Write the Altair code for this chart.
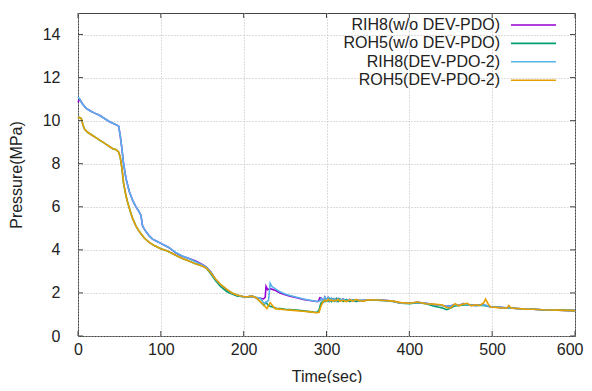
import altair as alt
import pandas as pd

names = ["RIH8(w/o DEV-PDO)", "ROH5(w/o DEV-PDO)", "RIH8(DEV-PDO-2)", "ROH5(DEV-PDO-2)"]
colors = ["#9400D3", "#009E73", "#56B4E9", "#E69F00"]

# common tail (after ~292 s)
tail_t = [294, 296, 298, 300, 302, 304, 306, 308, 310, 312, 314, 316, 320, 324, 328, 332, 336, 340,
          345, 350, 360, 370, 380, 390, 400, 410, 420, 430, 440, 445, 450, 455, 460, 465, 470, 480,
          490, 495, 500, 510, 520, 530, 540, 550, 560, 570, 580, 590, 600]
tail_p = [1.75, 1.6, 1.8, 1.65, 1.78, 1.62, 1.75, 1.65, 1.72, 1.62, 1.74, 1.64, 1.72, 1.62, 1.7, 1.62, 1.68, 1.64,
          1.66, 1.68, 1.68, 1.66, 1.62, 1.52, 1.52, 1.56, 1.52, 1.45, 1.42, 1.38, 1.4, 1.45, 1.42, 1.5, 1.45, 1.42,
          1.45, 1.38, 1.35, 1.33, 1.3, 1.28, 1.25, 1.24, 1.22, 1.21, 1.2, 1.19, 1.18]

# RIH8 (DEV-PDO-2) - blue
blue_t = [0, 2, 5, 10, 15, 20, 26, 32, 38, 44, 49, 51, 53, 55, 58, 62, 66, 70, 74, 76, 78, 82, 86, 90, 95,
          100, 105, 110, 118, 126, 134, 142, 150, 155, 160, 166, 172, 180, 186, 192, 200, 205, 210, 215, 220,
          225, 228, 230, 232, 234, 238, 244, 250, 256, 264, 272, 280, 288, 292] + tail_t
blue_p = [11.1, 11.0, 10.8, 10.57, 10.45, 10.35, 10.25, 10.1, 9.95, 9.85, 9.75, 9.3, 8.7, 8.0, 7.3, 6.7, 6.3, 6.0,
          5.75, 5.6, 5.1, 4.85, 4.65, 4.5, 4.4, 4.3, 4.2, 4.1, 3.88, 3.72, 3.6, 3.45, 3.3, 3.2, 3.0, 2.65, 2.4, 2.15,
          2.0, 1.9, 1.82, 1.82, 1.85, 1.8, 1.75, 1.5, 1.6, 1.65, 2.45, 2.3, 2.2, 2.05, 1.95, 1.88, 1.8, 1.72, 1.66,
          1.6, 1.62] + tail_p

# RIH8 (w/o DEV-PDO) - purple
purple_t = [0, 2, 5, 10, 15, 20, 26, 32, 38, 44, 49, 51, 53, 55, 58, 62, 66, 70, 74, 76, 78, 82, 86, 90, 95,
            100, 105, 110, 118, 126, 134, 142, 150, 155, 160, 166, 172, 180, 186, 192, 200, 205, 210, 215, 220,
            224, 226, 227, 229, 232, 238, 244, 250, 256, 264, 272, 280, 288, 290, 292] + tail_t
purple_p = [10.85, 11.0, 10.8, 10.57, 10.45, 10.35, 10.25, 10.1, 9.95, 9.85, 9.75, 9.3, 8.7, 8.0, 7.3, 6.7, 6.3,
            6.0, 5.75, 5.6, 5.1, 4.85, 4.65, 4.5, 4.4, 4.3, 4.2, 4.1, 3.86, 3.7, 3.6, 3.48, 3.32, 3.2, 3.0, 2.62,
            2.38, 2.12, 1.98, 1.88, 1.82, 1.82, 1.85, 1.78, 1.75, 1.72, 1.8, 2.3, 2.15, 2.2, 2.12, 2.0, 1.92, 1.85,
            1.78, 1.7, 1.65, 1.6, 1.6, 1.78] + tail_p

# ROH5 (DEV-PDO-2) - orange
orange_tail_t = [294, 296, 298, 300, 302, 304, 306, 308, 310, 312, 314, 316, 320, 324, 328, 332, 336, 340,
                 345, 350, 360, 370, 380, 390, 400, 410, 420, 430, 440, 445, 450, 455, 460, 465, 470, 475, 480,
                 485, 490, 492, 495, 498, 505, 510, 518, 520, 523, 530, 540, 550, 560, 570, 580, 590, 600]
orange_tail_p = [1.45, 1.6, 1.66, 1.62, 1.7, 1.64, 1.68, 1.62, 1.66, 1.64, 1.7, 1.62, 1.66, 1.6, 1.68, 1.62, 1.7,
                 1.64, 1.62, 1.68, 1.67, 1.65, 1.62, 1.55, 1.52, 1.58, 1.5, 1.48, 1.44, 1.32, 1.3, 1.5, 1.4, 1.48,
                 1.52, 1.4, 1.45, 1.42, 1.55, 1.72, 1.5, 1.35, 1.33, 1.3, 1.3, 1.42, 1.3, 1.28, 1.25, 1.24, 1.22,
                 1.21, 1.2, 1.19, 1.18]
orange_t = [0, 2, 4, 6, 8, 12, 18, 22, 26, 30, 34, 38, 42, 46, 49, 51, 53, 55, 58, 60, 63, 66, 70, 74, 80, 86,
            92, 100, 108, 118, 126, 134, 142, 150, 155, 160, 166, 172, 180, 186, 192, 200, 205, 210, 215, 220,
            225, 228, 230, 232, 235, 238, 244, 250, 256, 264, 272, 280, 288, 291, 293] + orange_tail_t
orange_p = [10.1, 10.15, 10.1, 9.8, 9.6, 9.45, 9.3, 9.2, 9.1, 9.0, 8.9, 8.8, 8.7, 8.65, 8.55, 8.3, 7.8, 7.1, 6.5,
            6.2, 5.8, 5.45, 5.1, 4.85, 4.55, 4.35, 4.2, 4.05, 3.95, 3.75, 3.6, 3.48, 3.35, 3.25, 3.15, 2.95, 2.65,
            2.4, 2.15, 2.0, 1.9, 1.82, 1.82, 1.85, 1.78, 1.6, 1.42, 1.27, 1.4, 1.55, 1.4, 1.27, 1.25, 1.22, 1.2,
            1.18, 1.15, 1.12, 1.08, 1.1, 1.35] + orange_tail_p

# ROH5 (w/o DEV-PDO) - green
green_tail_t = [296, 298, 300, 302, 304, 306, 308, 310, 312, 314, 316, 320, 324, 328, 332, 336, 340,
                345, 350, 360, 370, 380, 390, 400, 410, 420, 430, 440, 445, 450, 455, 460, 470, 480,
                490, 500, 510, 520, 530, 540, 550, 560, 570, 580, 590, 600]
green_tail_p = [1.65, 1.6, 1.72, 1.62, 1.74, 1.6, 1.72, 1.62, 1.74, 1.6, 1.72, 1.6, 1.7, 1.6, 1.68, 1.6, 1.66,
                1.64, 1.67, 1.66, 1.64, 1.6, 1.52, 1.5, 1.55, 1.5, 1.38, 1.3, 1.22, 1.3, 1.4, 1.42, 1.45, 1.42,
                1.42, 1.35, 1.32, 1.3, 1.28, 1.25, 1.24, 1.22, 1.21, 1.2, 1.19, 1.18]
green_t = [0, 2, 4, 6, 8, 12, 18, 22, 26, 30, 34, 38, 42, 46, 49, 51, 53, 55, 58, 60, 63, 66, 70, 74, 80, 86,
           92, 100, 108, 118, 126, 134, 142, 150, 155, 160, 166, 172, 180, 186, 192, 200, 205, 210, 215, 220,
           224, 227, 230, 235, 240, 244, 250, 264, 280, 288, 291, 293] + green_tail_t
green_p = [10.1, 10.15, 10.1, 9.8, 9.6, 9.45, 9.3, 9.2, 9.1, 9.0, 8.9, 8.8, 8.7, 8.65, 8.55, 8.3, 7.8, 7.1, 6.5,
           6.2, 5.8, 5.45, 5.1, 4.85, 4.55, 4.35, 4.2, 4.05, 3.95, 3.75, 3.6, 3.48, 3.35, 3.25, 3.15, 2.9, 2.58,
           2.3, 2.05, 1.95, 1.86, 1.82, 1.82, 1.84, 1.78, 1.6, 1.43, 1.57, 1.4, 1.35, 1.28, 1.27, 1.24, 1.2, 1.13,
           1.09, 1.2, 1.5] + green_tail_p

x_ticks = [0, 100, 200, 300, 400, 500, 600]
y_ticks = [0, 2, 4, 6, 8, 10, 12, 14]

W, H = 497, 323
FONT = "Liberation Sans"

series = [(names[0], purple_t, purple_p), (names[1], green_t, green_p),
          (names[2], blue_t, blue_p), (names[3], orange_t, orange_p)]
rows = []
for nm, ts, ps in series:
    for t, p in zip(ts, ps):
        rows.append({"series": nm, "t": t, "p": p})
df = pd.DataFrame(rows)

xscale = alt.Scale(domain=[0, 600], nice=False)
yscale = alt.Scale(domain=[0, 15], nice=False)

xaxis = alt.Axis(values=x_ticks, title="Time(sec)", grid=True, gridDash=[1, 2], gridColor="#bbbbbb",
                 domain=False, ticks=False, labelPadding=5, titlePadding=11, labelFontSize=16,
                 titleFontSize=16, labelColor="#222222", titleColor="#222222", titleFontWeight="normal",
                 labelFont=FONT, titleFont=FONT, labelFlush=False, labelOverlap=False,
                 labelAlign={"condition": {"test": "datum.value == 600", "value": "right"}, "value": "center"},
                 labelOffset={"condition": {"test": "datum.value == 600", "value": 8}, "value": 0})
yaxis = alt.Axis(values=y_ticks, title="Pressure(MPa)", grid=True, gridDash=[1, 2], gridColor="#bbbbbb",
                 domain=False, ticks=False, labelPadding=18, titlePadding=18, labelFontSize=16,
                 titleFontSize=16, labelColor="#222222", titleColor="#222222", titleFontWeight="normal",
                 labelFont=FONT, titleFont=FONT, labelFlush=False, labelOverlap=False)

X = lambda f: alt.X(f, scale=xscale, axis=xaxis)
Y = lambda f: alt.Y(f, scale=yscale, axis=yaxis)

layers = []
for i, (nm, _, _) in enumerate(series):
    layers.append(alt.Chart(df).transform_filter(alt.datum.series == nm)
                  .mark_line(color=colors[i], strokeWidth=1.6).encode(x=X("t:Q"), y=Y("p:Q")))

# inward ticks on all four sides
xt = pd.DataFrame({"v": x_ticks})
yt = pd.DataFrame({"v": y_ticks})
tick_style = dict(color="#444444", strokeWidth=1)
ticks = [
    alt.Chart(xt).mark_rule(**tick_style).encode(x=X("v:Q"), y=alt.value(H), y2=alt.value(H - 5)),
    alt.Chart(xt).mark_rule(**tick_style).encode(x=X("v:Q"), y=alt.value(0), y2=alt.value(5)),
    alt.Chart(yt).mark_rule(**tick_style).encode(y=Y("v:Q"), x=alt.value(0), x2=alt.value(5)),
    alt.Chart(yt).mark_rule(**tick_style).encode(y=Y("v:Q"), x=alt.value(W), x2=alt.value(W - 5)),
]

# legend (gnuplot style: right-aligned text, line sample to the right)
leg = []
for i, nm in enumerate(names):
    yy = 12 + i * 18.4
    leg.append(alt.Chart(pd.DataFrame({"name": [nm]})).mark_text(
        align="right", baseline="middle", fontSize=16, font=FONT, color="#222222")
        .encode(text="name:N", x=alt.value(422), y=alt.value(yy)))
    leg.append(alt.Chart(pd.DataFrame({"name": [nm]})).mark_rule(color=colors[i], strokeWidth=1.6)
               .encode(x=alt.value(433), x2=alt.value(478), y=alt.value(yy)))

chart = alt.layer(*layers, *ticks, *leg).properties(
    width=W, height=H,
    autosize=alt.AutoSizeParams(type="none"),
    padding={"left": 70, "top": 5, "right": 9, "bottom": 47},
    background="white",
).configure_view(stroke="#444444", strokeWidth=1)

chart.save("out.html", embed_options={"renderer": "svg", "actions": False})
